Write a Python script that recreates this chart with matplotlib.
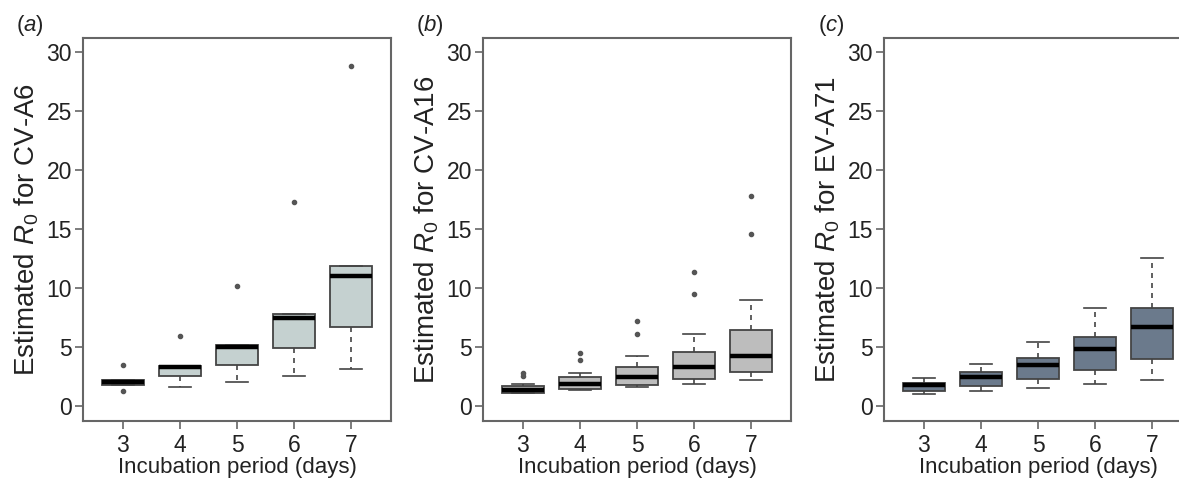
import matplotlib
matplotlib.use("Agg")
import matplotlib.pyplot as plt

plt.rcParams['font.family'] = ['Liberation Sans', 'DejaVu Sans']
plt.rcParams['mathtext.fontset'] = 'custom'
plt.rcParams['mathtext.rm'] = 'Liberation Sans'
plt.rcParams['mathtext.it'] = 'Liberation Sans:italic'

days = [3, 4, 5, 6, 7]

# panel (a) CV-A6
a_med = [2.03, 3.33, 5.0, 7.46, 11.0]
a_q1 = [1.81, 2.57, 3.53, 4.92, 6.72]
a_q3 = [2.2, 3.45, 5.17, 7.82, 11.86]
a_lo = [1.81, 1.61, 2.06, 2.54, 3.19]
a_hi = [2.2, 3.45, 5.17, 7.82, 11.86]
a_out = [[3.47, 1.3], [5.96], [10.2], [17.3], [28.8]]

# panel (b) CV-A16
b_med = [1.36, 1.85, 2.47, 3.32, 4.26]
b_q1 = [1.14, 1.45, 1.82, 2.27, 2.87]
b_q3 = [1.73, 2.44, 3.35, 4.63, 6.48]
b_lo = [1.14, 1.36, 1.62, 1.9, 2.24]
b_hi = [1.875, 2.84, 4.23, 6.16, 8.98]
b_out = [[2.78, 2.58], [4.49, 3.95], [7.19, 6.16], [9.55, 11.36], [14.6, 17.8]]

# panel (c) EV-A71
c_med = [1.76, 2.5, 3.49, 4.89, 6.7]
c_q1 = [1.28, 1.73, 2.3, 3.07, 4.03]
c_q3 = [1.99, 2.87, 4.12, 5.85, 8.3]
c_lo = [1.05, 1.25, 1.53, 1.85, 2.19]
c_hi = [2.36, 3.58, 5.48, 8.32, 12.53]
c_out = [[], [], [], [], []]

panels = [
    ("a", "CV-A6", "#c5d1d0", a_med, a_q1, a_q3, a_lo, a_hi, a_out),
    ("b", "CV-A16", "#bdbdbd", b_med, b_q1, b_q3, b_lo, b_hi, b_out),
    ("c", "EV-A71", "#6b7a8c", c_med, c_q1, c_q3, c_lo, c_hi, c_out),
]

fig = plt.figure(figsize=(11.79, 4.79), dpi=100)
lefts = [83, 483, 884]
edge = "#444444"
frame = "#666666"

for i, (lab, virus, col, med, q1, q3, lo, hi, out) in enumerate(panels):
    ax = fig.add_axes([lefts[i] / 1179, 58 / 479, 308 / 1179, 383 / 479])
    stats = []
    for j in range(len(days)):
        stats.append(dict(med=med[j], q1=q1[j], q3=q3[j], whislo=lo[j],
                          whishi=hi[j], fliers=out[j]))
    ax.bxp(stats, positions=days, widths=0.75, patch_artist=True,
           boxprops=dict(facecolor=col, edgecolor=edge, linewidth=1.3),
           medianprops=dict(color="black", linewidth=3.2),
           whiskerprops=dict(color=edge, linewidth=1.2, linestyle=(0, (3, 3))),
           capprops=dict(color=edge, linewidth=1.2),
           flierprops=dict(marker="o", markersize=3, markerfacecolor="#555555",
                           markeredgecolor="#555555"),
           capwidths=0.38)
    ax.set_xlim(2.3, 7.7)
    ax.set_ylim(-1.25, 31.2)
    ax.set_yticks([0, 5, 10, 15, 20, 25, 30])
    ax.set_xticks(days)
    ax.set_xticklabels([str(d) for d in days])
    for s in ax.spines.values():
        s.set_color(frame)
        s.set_linewidth(1.5)
    ax.tick_params(axis="both", colors=frame, labelcolor="#222222",
                   labelsize=16.5, length=6, width=1.2)
    ax.tick_params(axis="y", pad=2)
    ax.tick_params(axis="x", pad=3)
    ax.set_xlabel("Incubation period (days)", fontsize=16, color="#222222", labelpad=0)
    ax.set_ylabel(r"Estimated $R_0$ for " + virus, fontsize=20, color="#222222", labelpad=4)
    fig.text((lefts[i] - 53) / 1179, 1 - 26 / 479, r"($\it{" + lab + r"}$)",
             fontsize=16, color="#222222", ha="center", va="center")

fig.savefig("out.png", dpi=100)
